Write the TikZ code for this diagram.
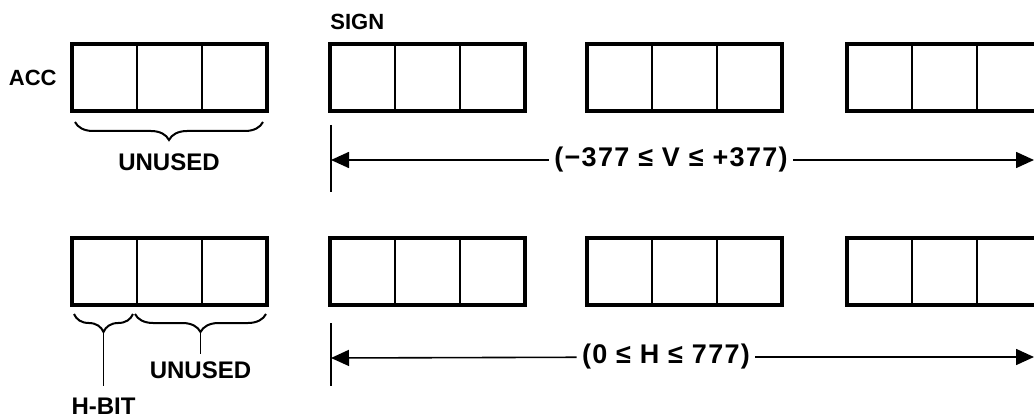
\documentclass[tikz,border=0pt]{standalone}
\usepackage{fontspec}
\setmainfont{Liberation Sans}
\usepackage{tikz}
\usetikzlibrary{positioning}
\usetikzlibrary{calc}
\usetikzlibrary{arrows.meta}
\usetikzlibrary{decorations.pathreplacing}
\tikzset{
register/.style={rectangle, draw, line width=2pt, minimum width=97.5pt, minimum height=33.5pt, inner sep=0pt, outer sep=0pt},
divider/.style={line width=1.3pt},
field_label/.style={font=\bfseries\fontsize{12}{14}\selectfont, inner sep=0pt},
small_label/.style={font=\bfseries\fontsize{11}{13}\selectfont, inner sep=0pt},
range_label/.style={font=\bfseries\fontsize{13.5}{16}\selectfont\addfontfeature{LetterSpace=5}, inner sep=2.5pt},
bracket/.style={decorate, decoration={brace, mirror, amplitude=9pt}, line width=1pt},
span_line/.style={line width=0.8pt, >={Triangle[length=9pt, width=8pt]}},
stop_bar/.style={line width=1.2pt}
}

\begin{document}
\begin{tikzpicture}[x=0.5pt, y=-0.5pt]
    \useasboundingbox (0,0) rectangle (1034,417);
    \clip (0,0) rectangle (1034,417);
    % upper row
    \node[register] (acc_1) at (169.5,77.5) {};
    \node[register, right=31.5pt of acc_1] (acc_2) {};
    \node[register, right=31pt of acc_2] (acc_3) {};
    \node[register, right=32.5pt of acc_3] (acc_4) {};
    % lower row
    \node[register, below=63.5pt of acc_1] (h_1) {};
    \node[register, below=63.5pt of acc_2] (h_2) {};
    \node[register, below=63.5pt of acc_3] (h_3) {};
    \node[register, below=63.5pt of acc_4] (h_4) {};
    \foreach \r in {acc_1,acc_2,acc_3,acc_4,h_1,h_2,h_3,h_4}
        \foreach \k in {1,2}
            \draw[divider] ($(\r.north west)!\k/3!(\r.north east)$) -- ($(\r.south west)!\k/3!(\r.south east)$);

    \node[small_label, left=7.5pt of acc_1] (acc) {ACC};
    \node[small_label, above right=7pt and 0pt of acc_2.north west] (sign) {SIGN};

    \draw[bracket] ([xshift=1.5pt,yshift=-5.5pt]acc_1.south west) -- ([xshift=-2pt,yshift=-5.5pt]acc_1.south east) coordinate[midway, below=9pt] (unused_tip_1);
    \node[field_label, below=6.5pt of unused_tip_1] (unused_1) {UNUSED};

    \coordinate (h_cut) at ($(h_1.south west)!1/3!(h_1.south east)$);
    \draw[bracket] ([xshift=1pt,yshift=-4.5pt]h_1.south west) -- ([xshift=-2pt,yshift=-4.5pt]h_cut) coordinate[midway, below=9pt] (hbit_tip);
    \draw[bracket] ([xshift=-1pt,yshift=-4.5pt]h_cut) -- ([xshift=-0.5pt,yshift=-4.5pt]h_1.south east) coordinate[midway, below=9pt] (unused_tip_2);
    \node[field_label, below=33pt of hbit_tip] (hbit) {H-BIT};
    \node[field_label, below=14.5pt of unused_tip_2] (unused_2) {UNUSED};
    \draw[span_line, shorten >=6pt] (hbit_tip) -- (hbit);
    \draw[span_line, shorten >=3.5pt] (unused_tip_2) -- (unused_2);

    % value ranges
    \coordinate (v_start) at ([xshift=0.5pt,yshift=-24.5pt]acc_2.south west);
    \draw[stop_bar] ([yshift=17.5pt]v_start) -- ([yshift=-16pt]v_start);
    \node[range_label] (v_range) at (671,160) {(−377 ≤ V ≤ +377)};
    \coordinate (v_end) at (1034,160);
    \draw[span_line, <-] (v_start) -- (v_range);
    \draw[span_line, ->] (v_range) -- (v_end);

    \coordinate (h_start) at ([xshift=0.5pt,yshift=-26.5pt]h_2.south west);
    \draw[stop_bar] ([yshift=17.5pt]h_start) -- ([yshift=-14pt]h_start);
    \node[range_label] (h_range) at (666,357) {(0 ≤ H ≤ 777)};
    \coordinate (h_end) at (1034,357);
    \draw[span_line, <-] (h_start) -- (h_range);
    \draw[span_line, ->] (h_range) -- (h_end);
\end{tikzpicture}
\end{document}
